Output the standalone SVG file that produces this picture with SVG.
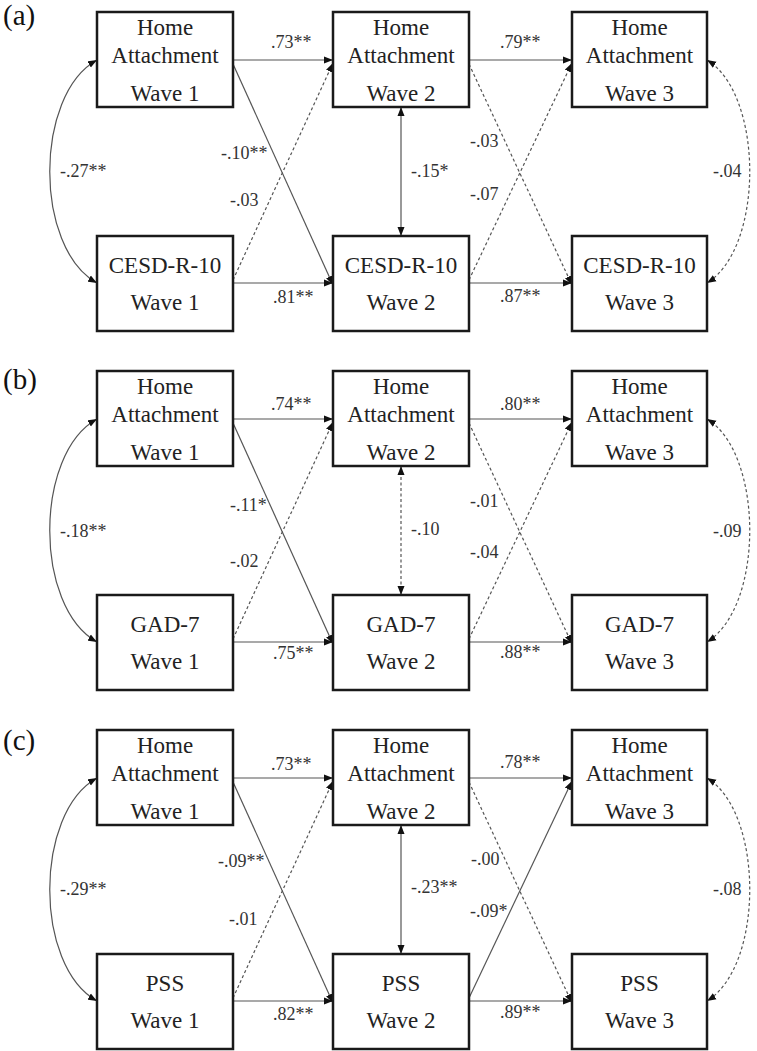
<svg xmlns="http://www.w3.org/2000/svg" width="757" height="1051" viewBox="0 0 757 1051">
<style>
.bg{fill:#fff}
.box{fill:#fff;stroke:#1a1a1a;stroke-width:2.5}
.nt{font-family:"Liberation Serif","Times New Roman",serif;font-size:23px;fill:#222;text-anchor:middle}
.lbl{font-family:"Liberation Serif","Times New Roman",serif;font-size:18px;fill:#333}
.pl{font-family:"Liberation Serif","Times New Roman",serif;font-size:29px;fill:#111}
.c{fill:none;stroke:#555;stroke-width:1.2;marker-end:url(#ah)}
.d{stroke-dasharray:3 2.5}
.bi{marker-start:url(#ah)}
</style>
<defs>
<marker id="ah" markerWidth="10" markerHeight="8" refX="9" refY="4" orient="auto-start-reverse" markerUnits="userSpaceOnUse"><path d="M0,0.5 L9,4 L0,7.5 z" fill="#111"/></marker>
</defs>
<rect class="bg" x="0" y="0" width="757" height="1051"/>

<g id="panel-labels">
<text class="pl" x="3" y="25">(a)</text>
<text class="pl" x="3" y="389">(b)</text>
<text class="pl" x="3" y="750">(c)</text>
</g>

<g id="connectors">
<!-- panel a -->
<path class="c" d="M233,60 L333,60"/>
<path class="c" d="M233,283 L333,283"/>
<path class="c" d="M469,60 L572,60"/>
<path class="c" d="M469,283 L572,283"/>
<path class="c" d="M233,64 L333,285"/>
<path class="c d" d="M233,280 L333,63"/>
<path class="c d" d="M469,64 L572,285"/>
<path class="c d" d="M469,280 L572,63"/>
<path class="c bi" d="M401,107 L401,236"/>
<path class="c bi" d="M97,60 C34,95 34,248 97,283"/>
<path class="c bi d" d="M707,60 C764,95 764,248 707,283"/>
<!-- panel b -->
<path class="c" d="M233,419 L333,419"/>
<path class="c" d="M233,642 L333,642"/>
<path class="c" d="M469,419 L572,419"/>
<path class="c" d="M469,642 L572,642"/>
<path class="c" d="M233,423 L333,644"/>
<path class="c d" d="M233,639 L333,422"/>
<path class="c d" d="M469,423 L572,644"/>
<path class="c d" d="M469,639 L572,422"/>
<path class="c bi d" d="M401,466 L401,595"/>
<path class="c bi" d="M97,419 C34,454 34,607 97,642"/>
<path class="c bi d" d="M707,419 C764,454 764,607 707,642"/>
<!-- panel c -->
<path class="c" d="M233,778 L333,778"/>
<path class="c" d="M233,1001 L333,1001"/>
<path class="c" d="M469,778 L572,778"/>
<path class="c" d="M469,1001 L572,1001"/>
<path class="c" d="M233,782 L333,1003"/>
<path class="c d" d="M233,998 L333,781"/>
<path class="c d" d="M469,782 L572,1003"/>
<path class="c" d="M469,998 L572,781"/>
<path class="c bi" d="M401,825 L401,954"/>
<path class="c bi" d="M97,778 C34,813 34,966 97,1001"/>
<path class="c bi d" d="M707,778 C764,813 764,966 707,1001"/>
</g>

<g id="edge-labels">
<text class="lbl" x="271" y="48">.73**</text>
<text class="lbl" x="273" y="303">.81**</text>
<text class="lbl" x="221" y="159">-.10**</text>
<text class="lbl" x="230" y="206">-.03</text>
<text class="lbl" x="60" y="177">-.27**</text>
<text class="lbl" x="500" y="48">.79**</text>
<text class="lbl" x="500" y="302">.87**</text>
<text class="lbl" x="470" y="147">-.03</text>
<text class="lbl" x="470" y="200">-.07</text>
<text class="lbl" x="411" y="177">-.15*</text>
<text class="lbl" x="713" y="177">-.04</text>

<text class="lbl" x="271" y="410">.74**</text>
<text class="lbl" x="273" y="659">.75**</text>
<text class="lbl" x="230" y="511">-.11*</text>
<text class="lbl" x="230" y="567">-.02</text>
<text class="lbl" x="60" y="537">-.18**</text>
<text class="lbl" x="500" y="410">.80**</text>
<text class="lbl" x="500" y="658">.88**</text>
<text class="lbl" x="470" y="507">-.01</text>
<text class="lbl" x="470" y="558">-.04</text>
<text class="lbl" x="411" y="535">-.10</text>
<text class="lbl" x="713" y="537">-.09</text>

<text class="lbl" x="271" y="770">.73**</text>
<text class="lbl" x="273" y="1020">.82**</text>
<text class="lbl" x="218" y="867">-.09**</text>
<text class="lbl" x="229" y="925">-.01</text>
<text class="lbl" x="60" y="895">-.29**</text>
<text class="lbl" x="500" y="768">.78**</text>
<text class="lbl" x="500" y="1018">.89**</text>
<text class="lbl" x="471" y="865">-.00</text>
<text class="lbl" x="470" y="917">-.09*</text>
<text class="lbl" x="411" y="893">-.23**</text>
<text class="lbl" x="713" y="895">-.08</text>
</g>

<!-- panel a nodes -->
<g id="a-home-w1"><rect class="box" x="97" y="12" width="136" height="95"/><text class="nt" x="165" y="35">Home</text><text class="nt" x="165" y="63">Attachment</text><text class="nt" x="165" y="101">Wave 1</text></g>
<g id="a-home-w2"><rect class="box" x="333" y="12" width="136" height="95"/><text class="nt" x="401" y="35">Home</text><text class="nt" x="401" y="63">Attachment</text><text class="nt" x="401" y="101">Wave 2</text></g>
<g id="a-home-w3"><rect class="box" x="572" y="12" width="135" height="95"/><text class="nt" x="639.5" y="35">Home</text><text class="nt" x="639.5" y="63">Attachment</text><text class="nt" x="639.5" y="101">Wave 3</text></g>
<g id="a-cesd-w1"><rect class="box" x="97" y="236" width="136" height="95"/><text class="nt" x="165" y="273">CESD-R-10</text><text class="nt" x="165" y="310">Wave 1</text></g>
<g id="a-cesd-w2"><rect class="box" x="333" y="236" width="136" height="95"/><text class="nt" x="401" y="273">CESD-R-10</text><text class="nt" x="401" y="310">Wave 2</text></g>
<g id="a-cesd-w3"><rect class="box" x="572" y="236" width="135" height="95"/><text class="nt" x="639.5" y="273">CESD-R-10</text><text class="nt" x="639.5" y="310">Wave 3</text></g>

<!-- panel b nodes -->
<g id="b-home-w1"><rect class="box" x="97" y="371" width="136" height="95"/><text class="nt" x="165" y="394">Home</text><text class="nt" x="165" y="422">Attachment</text><text class="nt" x="165" y="460">Wave 1</text></g>
<g id="b-home-w2"><rect class="box" x="333" y="371" width="136" height="95"/><text class="nt" x="401" y="394">Home</text><text class="nt" x="401" y="422">Attachment</text><text class="nt" x="401" y="460">Wave 2</text></g>
<g id="b-home-w3"><rect class="box" x="572" y="371" width="135" height="95"/><text class="nt" x="639.5" y="394">Home</text><text class="nt" x="639.5" y="422">Attachment</text><text class="nt" x="639.5" y="460">Wave 3</text></g>
<g id="b-gad-w1"><rect class="box" x="97" y="595" width="136" height="95"/><text class="nt" x="165" y="632">GAD-7</text><text class="nt" x="165" y="669">Wave 1</text></g>
<g id="b-gad-w2"><rect class="box" x="333" y="595" width="136" height="95"/><text class="nt" x="401" y="632">GAD-7</text><text class="nt" x="401" y="669">Wave 2</text></g>
<g id="b-gad-w3"><rect class="box" x="572" y="595" width="135" height="95"/><text class="nt" x="639.5" y="632">GAD-7</text><text class="nt" x="639.5" y="669">Wave 3</text></g>

<!-- panel c nodes -->
<g id="c-home-w1"><rect class="box" x="97" y="730" width="136" height="95"/><text class="nt" x="165" y="753">Home</text><text class="nt" x="165" y="781">Attachment</text><text class="nt" x="165" y="819">Wave 1</text></g>
<g id="c-home-w2"><rect class="box" x="333" y="730" width="136" height="95"/><text class="nt" x="401" y="753">Home</text><text class="nt" x="401" y="781">Attachment</text><text class="nt" x="401" y="819">Wave 2</text></g>
<g id="c-home-w3"><rect class="box" x="572" y="730" width="135" height="95"/><text class="nt" x="639.5" y="753">Home</text><text class="nt" x="639.5" y="781">Attachment</text><text class="nt" x="639.5" y="819">Wave 3</text></g>
<g id="c-pss-w1"><rect class="box" x="97" y="954" width="136" height="95"/><text class="nt" x="165" y="991">PSS</text><text class="nt" x="165" y="1028">Wave 1</text></g>
<g id="c-pss-w2"><rect class="box" x="333" y="954" width="136" height="95"/><text class="nt" x="401" y="991">PSS</text><text class="nt" x="401" y="1028">Wave 2</text></g>
<g id="c-pss-w3"><rect class="box" x="572" y="954" width="135" height="95"/><text class="nt" x="639.5" y="991">PSS</text><text class="nt" x="639.5" y="1028">Wave 3</text></g>
</svg>
